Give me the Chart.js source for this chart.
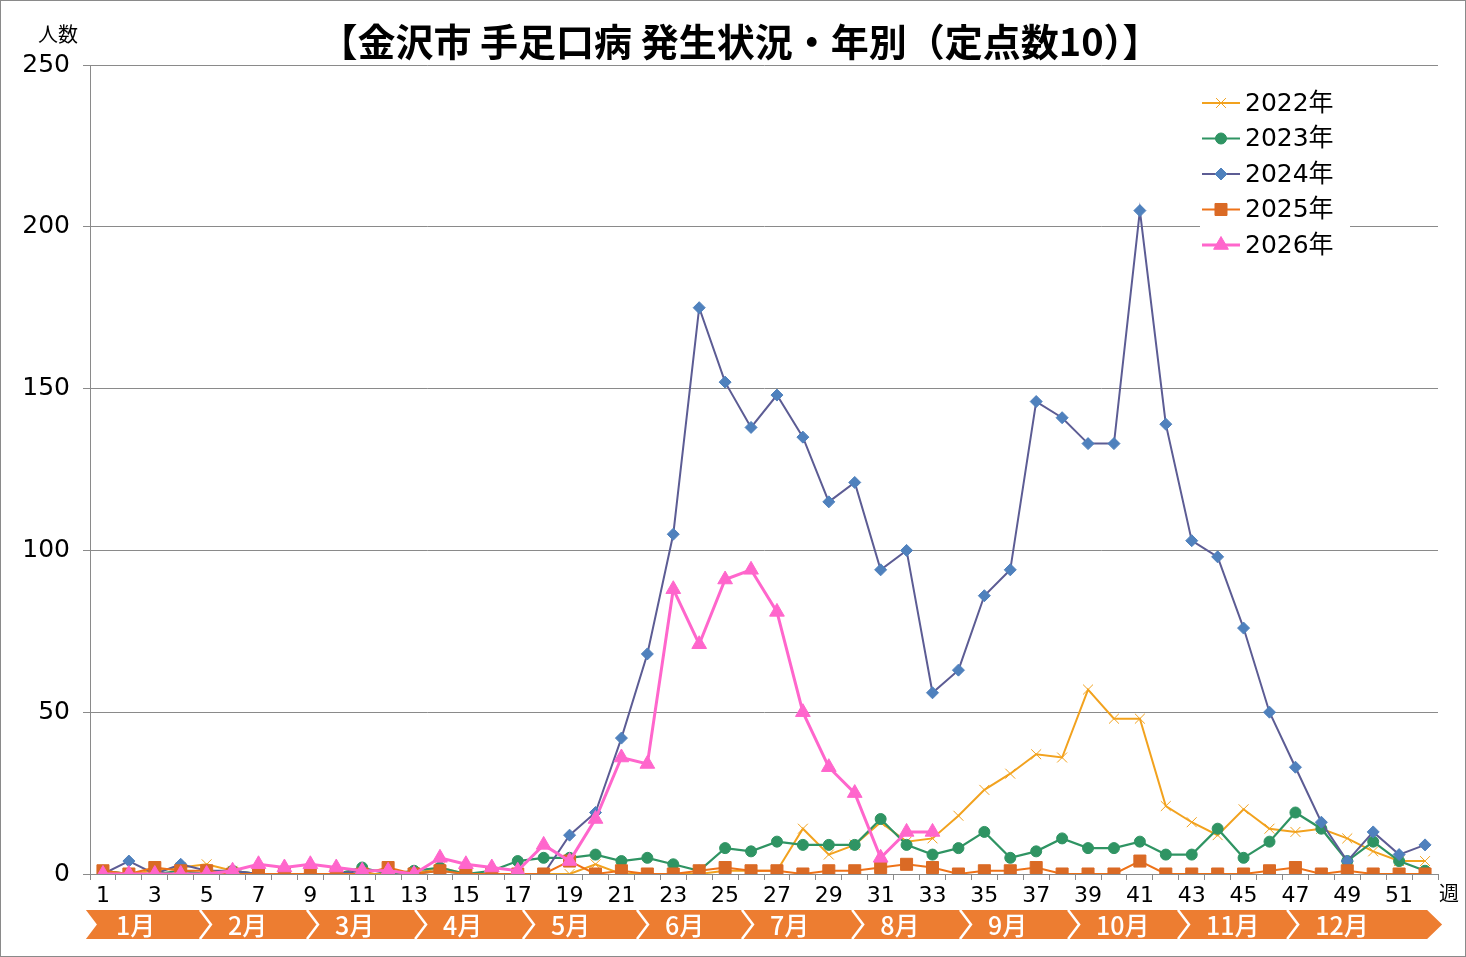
<!DOCTYPE html>
<html>
<head>
<meta charset="utf-8">
<script src="https://cdn.jsdelivr.net/npm/chart.js@4"></script>
<style>
    body { margin: 0; background: #fff; }
    #wrap { position: relative; width: 1466px; height: 957px; }
</style>
</head>
<body>
<div id="wrap"><canvas id="chart" width="1466" height="957"></canvas></div>
<script>
const weeks = ['1','2','3','4','5','6','7','8','9','10','11','12','13','14','15','16','17','18','19','20',
    '21','22','23','24','25','26','27','28','29','30','31','32','33','34','35','36','37','38','39','40',
    '41','42','43','44','45','46','47','48','49','50','51','52'];

const cases2022 = [1,0,1,2,3,1,0,0,0,0, 0,0,0,2,0,0,0,0,0,3, 0,0,0,0,1,1,1,14,6,9,
    16,10,11,18,26,31,37,36,57,48, 48,21,16,12,20,14,13,14,11,7, 4,4];
const cases2023 = [1,0,0,1,0,1,0,0,0,0, 2,0,1,2,0,1,4,5,5,6, 4,5,3,1,8,7,10,9,9,9,
    17,9,6,8,13,5,7,11,8,8, 10,6,6,14,5,10,19,14,4,10, 4,1];
const cases2024 = [0,4,0,3,1,1,0,0,0,0, 1,1,0,1,0,0,0,0,12,19, 42,68,105,175,152,138,148,135,115,121,
    94,100,56,63,86,94,146,141,133,133, 205,139,103,98,76,50,33,16,4,13, 6,9];
const cases2025 = [1,0,2,1,1,0,0,0,0,0, 0,2,0,1,0,0,0,0,4,0, 1,0,0,1,2,1,1,0,1,1,
    2,3,2,0,1,1,2,0,0,0, 4,0,0,0,0,1,2,0,1,0, 0,0];
const cases2026 = [0,0,0,0,0,1,3,2,3,2, 1,1,0,5,3,2,1,9,4,17, 36,34,88,71,91,94,81,50,33,25,
    5,13,13];

const months = ['1月','2月','3月','4月','5月','6月','7月','8月','9月','10月','11月','12月'];
// month band edges, in week units
const monthEdges = [0.42, 4.74, 8.87, 13.04, 17.2, 21.6, 25.65, 29.9, 34.06, 38.23, 42.47, 46.68, 52.08];

const JP = '"Noto Sans CJK JP", "Noto Sans", sans-serif';
const NUM = '"DejaVu Sans", "Noto Sans CJK JP", sans-serif';

const decor = {
    id: 'decor',
    beforeDraw(chart) {
        const ctx = chart.ctx;
        ctx.save();
        ctx.fillStyle = '#fff';
        ctx.fillRect(0, 0, chart.width, chart.height);
        ctx.restore();
    },
    afterDraw(chart) {
        const ctx = chart.ctx;
        const xs = chart.scales.x;
        ctx.save();

        // title
        ctx.fillStyle = '#000';
        ctx.textAlign = 'center';
        ctx.textBaseline = 'middle';
        ctx.font = 'bold 38px ' + JP;
        ctx.fillText('【金沢市 手足口病 発生状況・年別（定点数10）】', 740, 42);

        ctx.font = '20px ' + JP;
        ctx.fillText('人数', 58, 34);
        ctx.fillText('週', 1449, 893);

        // month band
        const top = 910, bot = 939, mid = (top + bot) / 2, d = 11;
        const px = w => xs.getPixelForValue(w - 1);
        const L = px(monthEdges[0]);
        const E = px(monthEdges[monthEdges.length - 1]);
        ctx.fillStyle = '#ED7D31';
        ctx.beginPath();
        ctx.moveTo(L - 2, top);
        ctx.lineTo(E, top);
        ctx.lineTo(E + d + 4, mid);
        ctx.lineTo(E, bot);
        ctx.lineTo(L - 2, bot);
        ctx.lineTo(L - 2 + d, mid);
        ctx.closePath();
        ctx.fill();

        ctx.strokeStyle = '#fff';
        ctx.lineWidth = 2.5;
        for (let i = 1; i < monthEdges.length - 1; i++) {
            const b = px(monthEdges[i]);
            ctx.beginPath();
            ctx.moveTo(b, top);
            ctx.lineTo(b + d, mid);
            ctx.lineTo(b, bot);
            ctx.stroke();
        }

        ctx.fillStyle = '#fff';
        ctx.textAlign = 'left';
        ctx.font = '500 25px ' + JP;
        months.forEach((m, i) => {
            ctx.fillText(m, px(monthEdges[i]) + 28, mid + 1);
        });

        // legend
        ctx.fillStyle = '#fff';
        ctx.fillRect(1200, 86, 150, 176);
        ctx.font = '25px ' + NUM;
        ctx.textBaseline = 'middle';
        chart.data.datasets.forEach((ds, i) => {
            const y = 103 + i * 35.5;
            ctx.strokeStyle = ds.borderColor;
            ctx.lineWidth = ds.borderWidth;
            ctx.beginPath();
            ctx.moveTo(1202, y);
            ctx.lineTo(1240, y);
            ctx.stroke();
            ctx.fillStyle = ds.pointBackgroundColor;
            ctx.strokeStyle = ds.pointBorderColor;
            ctx.lineWidth = ds.pointBorderWidth;
            Chart.helpers.drawPoint(ctx, {
                pointStyle: ds.pointStyle,
                radius: ds.pointRadius,
                borderWidth: ds.pointBorderWidth,
                rotation: 0
            }, 1221, y);
            ctx.fillStyle = '#000';
            ctx.fillText(ds.label, 1245, y + 1);
        });

        // outer frame
        ctx.strokeStyle = '#8a8a8a';
        ctx.lineWidth = 1;
        ctx.strokeRect(0.5, 0.5, chart.width - 1, chart.height - 1);
        ctx.restore();
    }
};

function series(label, data, line, marker, style, radius, width, order) {
    return {
        label: label,
        data: data,
        borderColor: line,
        borderWidth: width,
        pointStyle: style,
        pointRadius: radius,
        pointBackgroundColor: marker,
        pointBorderColor: style === 'crossRot' ? line : marker,
        pointBorderWidth: 1,
        tension: 0,
        order: order
    };
}

new Chart(document.getElementById('chart'), {
    type: 'line',
    data: {
        labels: weeks,
        datasets: [
            series('2022年', cases2022, '#F2A21E', '#F2A21E', 'crossRot', 7, 2, 4),
            series('2023年', cases2023, '#2F9463', '#2F9463', 'circle', 5.5, 2.2, 3),
            series('2024年', cases2024, '#5C5C94', '#4F81BD', 'rectRot', 6, 2, 2),
            series('2025年', cases2025, '#EE7218', '#DA6A25', 'rect', 8.5, 2, 1),
            series('2026年', cases2026, '#FF66CC', '#FF66CC', 'triangle', 8.5, 3, 0)
        ]
    },
    options: {
        responsive: false,
        animation: false,
        devicePixelRatio: 1,
        layout: { padding: { top: 65, right: 28, bottom: 0, left: 0 } },
        plugins: {
            legend: { display: false },
            title: { display: false },
            tooltip: { enabled: false }
        },
        scales: {
            x: {
                offset: true,
                afterFit: s => { s.height = 83; },
                border: { color: '#8a8a8a' },
                grid: { drawOnChartArea: false, offset: true, tickLength: 6, color: '#8a8a8a' },
                ticks: {
                    autoSkip: false,
                    maxRotation: 0,
                    padding: 3,
                    color: '#000',
                    font: { family: NUM, size: 22 },
                    callback: (v, i) => (i % 2 === 0 ? weeks[i] : '')
                }
            },
            y: {
                min: 0,
                max: 250,
                afterFit: s => { s.width = 90; },
                border: { color: '#8a8a8a' },
                grid: { color: '#8a8a8a', tickLength: 7 },
                ticks: {
                    stepSize: 50,
                    padding: 13,
                    color: '#000',
                    font: { family: NUM, size: 25 }
                }
            }
        }
    },
    plugins: [decor]
});
</script>
</body>
</html>
